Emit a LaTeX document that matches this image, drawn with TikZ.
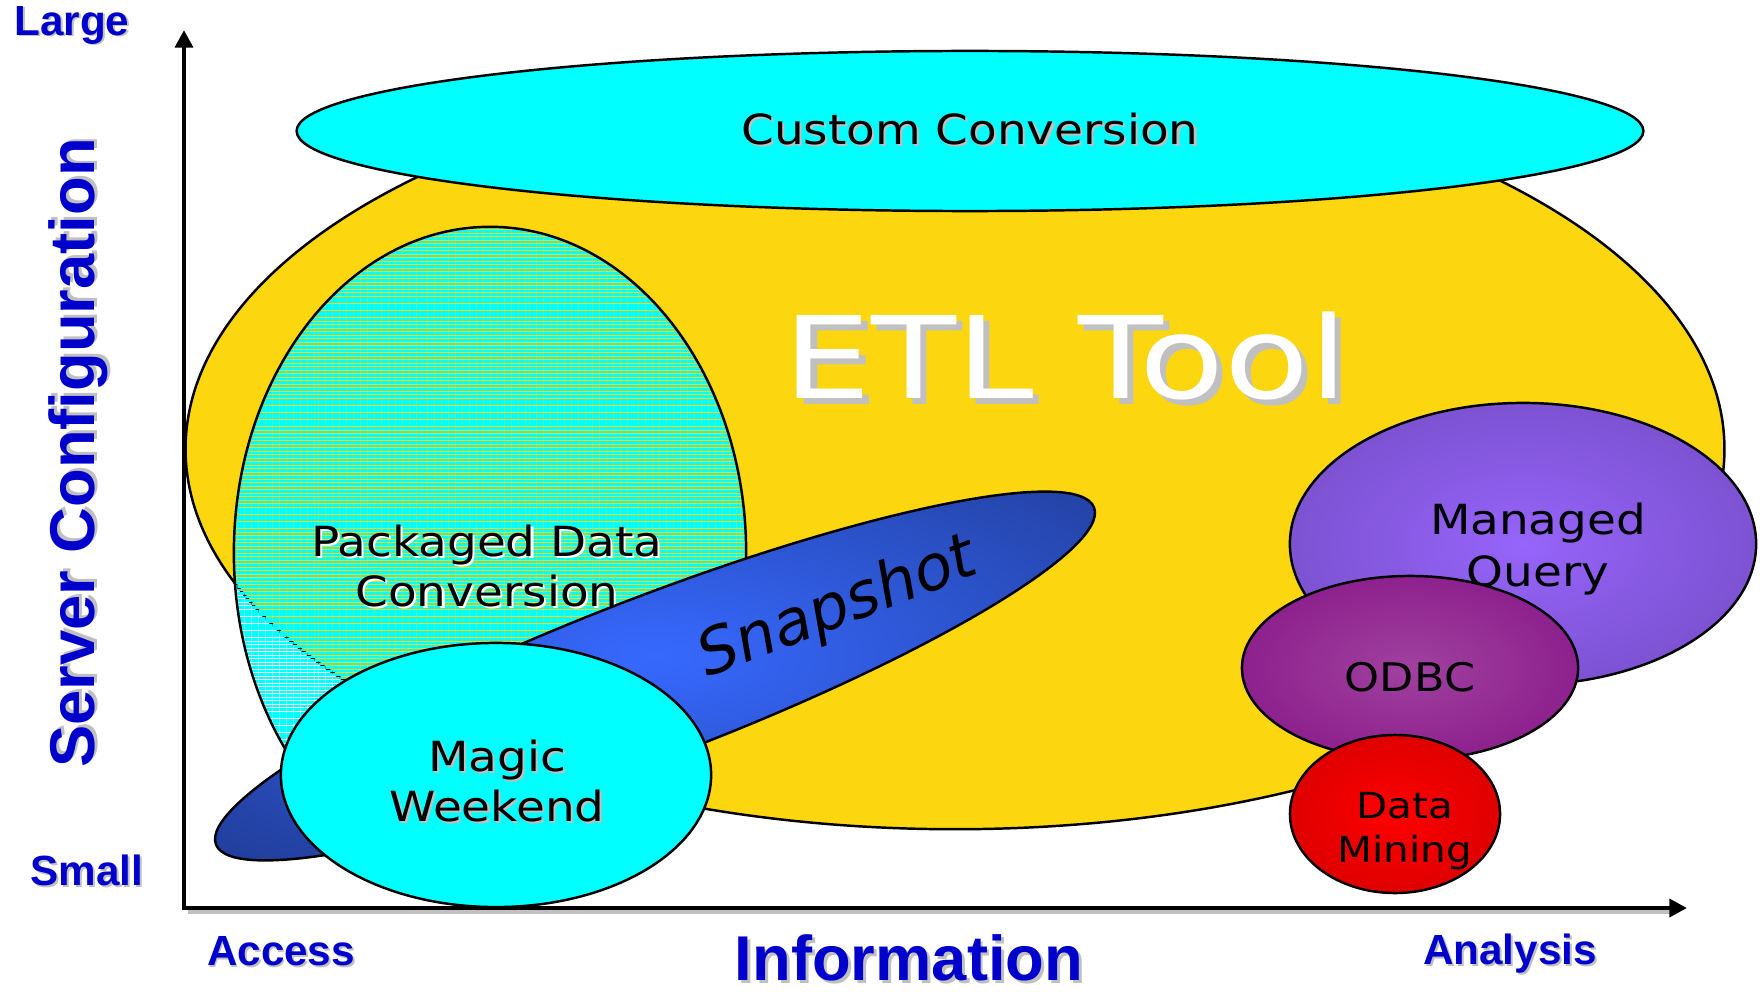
\documentclass[tikz,border=0pt]{standalone}
\usepackage{fontspec}
\setmainfont{DejaVu Sans}
\newfontfamily\axisfont{Liberation Sans}
\usepackage{tikz}
\usetikzlibrary{positioning,shapes.geometric,arrows.meta,patterns.meta}
\tikzset{>=stealth}
\definecolor{etlyellow}{RGB}{252,214,14}
\definecolor{aqua}{RGB}{0,255,255}
\definecolor{axisblue}{RGB}{0,0,204}
\definecolor{shadowgray}{RGB}{192,192,192}
\definecolor{snapin}{RGB}{55,105,255}
\definecolor{snapout}{RGB}{25,45,115}
\definecolor{mqin}{RGB}{150,100,250}
\definecolor{mqout}{RGB}{100,65,170}
\definecolor{odbcin}{RGB}{160,65,160}
\definecolor{odbcout}{RGB}{122,0,122}
\definecolor{dmin}{RGB}{255,0,0}
\definecolor{dmout}{RGB}{190,0,0}
\colorlet{glowin}{white}
\colorlet{glowout}{black}
\pgfdeclareradialshading[glowin,glowout]{glow}{\pgfpoint{0bp}{0bp}}{color(0bp)=(glowin); color(50bp)=(glowout)}
\newcommand*{\shd}[2]{\makebox[0pt][l]{\hspace{0.045em}\raisebox{-0.045em}{\textcolor{#1}{#2}}}#2}
\tikzset{
  blob/.style={ellipse,draw=black,line width=0.7pt,inner sep=0pt,outer sep=0pt},
  glowfill/.style 2 args={/utils/exec={\colorlet{glowin}{#1}\colorlet{glowout}{#2}},shading=glow},
  blobtext/.style={align=center,inner sep=0pt,xscale=1.13,font=\fontsize{11.8}{14.2}\selectfont},
  axislabel/.style={text=axisblue,inner sep=0pt,font=\axisfont\bfseries\fontsize{12}{14}\selectfont},
  axistitle/.style={axislabel,font=\axisfont\bfseries\fontsize{18}{21}\selectfont}
}

\begin{document}
\begin{tikzpicture}[x=0.01cm,y=-0.01cm]
\useasboundingbox (0,0) rectangle (1761,991);

\node[blob,fill=etlyellow,minimum width=15.38cm,minimum height=7.6cm] (etlblob) at (955,449) {};
\node[blob,fill=aqua,minimum width=13.46cm,minimum height=1.6cm] (customblob) at (970,131) {};
\node[blobtext] (custom) at (970,130) {\shd{shadowgray}{Custom Conversion}};

\node[blob,pattern={Lines[angle=0,distance=1pt,line width=0.75pt]},pattern color=aqua,
  minimum width=5.12cm,minimum height=6.52cm] (pkgblob) at (490,553) {};
\node[blobtext] (pkg) at (487,567) {\shd{white}{Packaged Data}\\\shd{white}{Conversion}};

\node[text=white,inner sep=0pt,xscale=1.22,font=\fontsize{32.4}{36}\selectfont] (etl) at (1066,359) {\shd{shadowgray}{ETL Tool}};

\node[blob,glowfill={snapin}{snapout},rotate=21,minimum width=9.4cm,minimum height=1.6cm] (snapblob) at (655,676) {};
\node[rotate=21,inner sep=0pt,font=\itshape\fontsize{17.8}{20}\selectfont] (snap) at (838,609) {Snapshot};

\node[blob,fill=aqua,minimum width=4.3cm,minimum height=2.64cm] (magicblob) at (496,775) {};
\node[blobtext] (magic) at (497,782) {\shd{shadowgray}{Magic}\\\shd{shadowgray}{Weekend}};

\node[blob,glowfill={mqin}{mqout},minimum width=4.66cm,minimum height=2.82cm] (mqblob) at (1523,544) {};
\node[blobtext,font=\fontsize{11.8}{15}\selectfont] (mq) at (1538,549) {Managed\\Query};
\node[blob,glowfill={odbcin}{odbcout},minimum width=3.36cm,minimum height=1.84cm] (odbcblob) at (1410,668) {};
\node[blobtext,font=\fontsize{11.2}{14}\selectfont] (odbc) at (1410,677) {ODBC};
\node[blob,glowfill={dmin}{dmout},minimum width=2.1cm,minimum height=1.58cm] (dmblob) at (1395,814) {};
\node[blobtext,font=\fontsize{10.2}{12.5}\selectfont] (dm) at (1405,831) {Data\\Mining};

\coordinate (origin) at (184,908);
\coordinate (ytip) at (184,30);
\coordinate (xtip) at (1687,908);
\draw[shadowgray,line width=1.4pt] (188,912) -- (1670,912);
\draw[line width=1.4pt,{Triangle[length=5pt,width=5pt]}-{Triangle[length=5pt,width=5pt]}] (ytip) -- (origin) -- (xtip);

\node[axislabel] (large) at (72,26) {\shd{shadowgray}{Large}};
\node[axislabel] (small) at (87,871) {\shd{shadowgray}{Small}};
\node[axislabel] (access) at (281,952) {\shd{shadowgray}{Access}};
\node[axislabel] (analysis) at (1510,955) {\shd{shadowgray}{Analysis}};
\node[axistitle] (info) at (909,959) {\shd{shadowgray}{Information}};
\node[axistitle,rotate=90] (server) at (80,453) {\shd{shadowgray}{Server Configuration}};
\end{tikzpicture}
\end{document}
